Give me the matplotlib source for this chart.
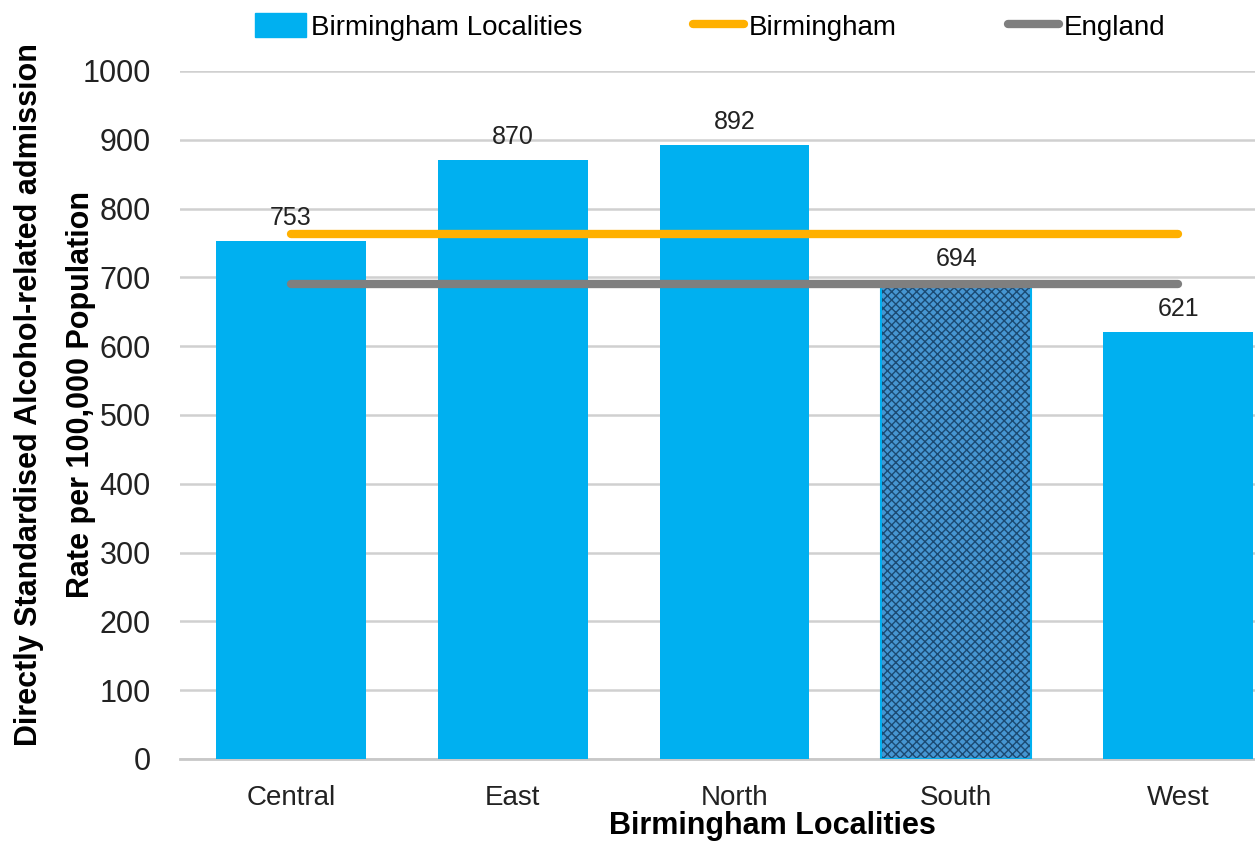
import matplotlib
matplotlib.use("Agg")
import matplotlib.pyplot as plt
from matplotlib import font_manager
from matplotlib.patches import Patch
from matplotlib.lines import Line2D
import numpy as np

names = {f.name for f in font_manager.fontManager.ttflist}
fam = "Liberation Sans Narrow" if "Liberation Sans Narrow" in names else "Liberation Sans"
plt.rcParams['font.family'] = [fam, 'DejaVu Sans']

categories = ["Central", "East", "North", "South", "West"]
values = [753, 870, 892, 694, 621]
birmingham = 763
england = 690
yticks = [0, 100, 200, 300, 400, 500, 600, 700, 800, 900, 1000]

W, H = 1255, 843
fig = plt.figure(figsize=(W/100, H/100), dpi=100)
ax = fig.add_axes([180/W, 1-759/H, (1289-180)/W, (759-71)/H])

x = np.arange(len(categories))
blue = '#00B0F0'
for i, v in enumerate(values):
    if categories[i] == "South":
        ax.bar(x[i], v, width=0.675, color='#4696d2', edgecolor='#1b4a72', hatch='xxxx', linewidth=0, zorder=3)
        ax.bar(x[i], v, width=0.675, fill=False, edgecolor=blue, linewidth=1.5, zorder=4)
    else:
        ax.bar(x[i], v, width=0.675, color=blue, zorder=3)
    ax.text(x[i], v + 16, f"{v}", ha='center', va='bottom', fontsize=18, color='#222222', zorder=6)

ax.plot([x[0], x[-1]], [birmingham, birmingham], color='#FFB000', lw=6, solid_capstyle='round', zorder=5)
ax.plot([x[0], x[-1]], [england, england], color='#7F7F7F', lw=6, solid_capstyle='round', zorder=5)

ax.set_xlim(-0.5, 4.5)
ax.set_ylim(0, 1000)
ax.set_yticks(yticks)
ax.set_xticks(x)
ax.set_xticklabels(categories)
ax.tick_params(axis='y', length=0, labelsize=22, pad=21, labelcolor='#222222')
ax.tick_params(axis='x', length=0, labelsize=20, pad=19, labelcolor='#222222')
ax.yaxis.grid(True, color='#D0D0D0', lw=1.8, zorder=0)
ax.set_axisbelow(True)
for s in ['left', 'right', 'top']:
    ax.spines[s].set_visible(False)
ax.spines['bottom'].set_color('#C8C8C8')
ax.spines['bottom'].set_linewidth(2)

fig.text(772/W, 1-826/H, "Birmingham Localities", ha='center', va='center', fontsize=22, fontweight='bold')
fig.text(29/W, 1-395/H, "Directly Standardised Alcohol-related admission",
         ha='center', va='center', rotation=90, fontsize=22, fontweight='bold')
fig.text(81/W, 1-395/H, "Rate per 100,000 Population",
         ha='center', va='center', rotation=90, fontsize=22, fontweight='bold')

handles = [Patch(facecolor=blue, edgecolor=blue),
           Line2D([0], [0], color='#FFB000', lw=6, solid_capstyle='round'),
           Line2D([0], [0], color='#7F7F7F', lw=6, solid_capstyle='round')]
fig.legend(handles, ["Birmingham Localities", "Birmingham", "England"], loc='center',
           bbox_to_anchor=(710/W, 1-27/H), ncol=3, frameon=False, fontsize=20,
           handlelength=1.85, handletextpad=0.15, columnspacing=4.0, handleheight=0.9)

fig.savefig("out.png", dpi=100)
